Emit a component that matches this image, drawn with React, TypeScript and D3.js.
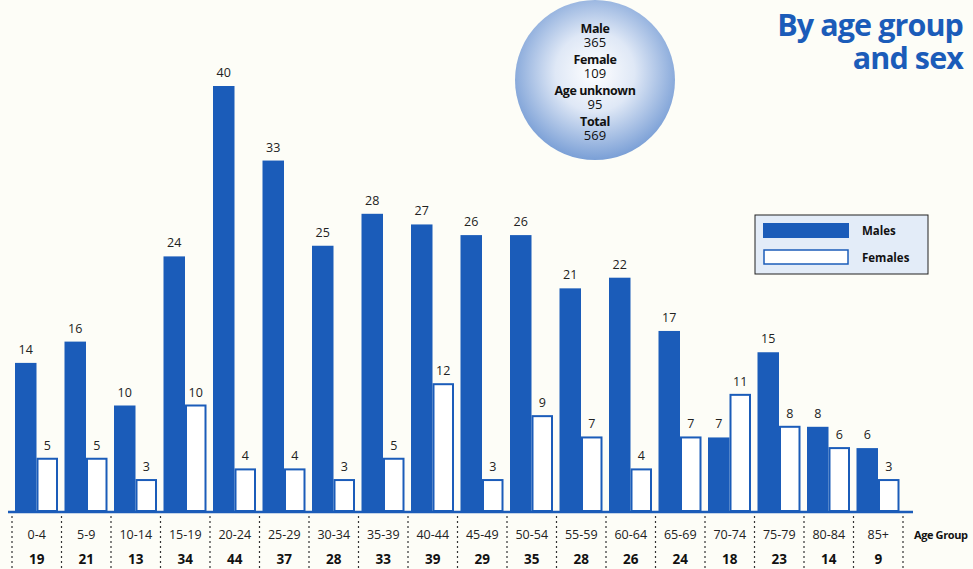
import React, { useEffect } from 'react';
import * as d3 from 'd3';

// chart data
const ageGroups = ['0-4', '5-9', '10-14', '15-19', '20-24', '25-29', '30-34', '35-39', '40-44', '45-49', '50-54', '55-59', '60-64', '65-69', '70-74', '75-79', '80-84', '85+'];
const males = [14, 16, 10, 24, 40, 33, 25, 28, 27, 26, 26, 21, 22, 17, 7, 15, 8, 6];
const females = [5, 5, 3, 10, 4, 4, 3, 5, 12, 3, 9, 7, 4, 7, 11, 8, 6, 3];
const totals = [19, 21, 13, 34, 44, 37, 28, 33, 39, 29, 35, 28, 26, 24, 18, 23, 14, 9];
const summary = [
  { label: 'Male', value: '365' },
  { label: 'Female', value: '109' },
  { label: 'Age unknown', value: '95' },
  { label: 'Total', value: '569' },
];

const W = 973;
const H = 569;
const BLUE = '#1b5cb9';
const FONT = '"Open Sans", "Noto Sans", sans-serif';

const App: React.FC = () => {
  useEffect(() => {
    document.body.style.margin = '0';
  }, []);

  const x0 = d3.scaleBand<string>().domain(ageGroups).range([12, 903]);
  const x1 = d3.scaleBand<string>().domain(['m', 'f']).range([3, 46]);
  const y = d3.scaleLinear().domain([0, 40]).range([512, 86]);

  return (
    <svg width={W} height={H} style={{ display: 'block', background: '#fdfdf7', fontFamily: FONT }}>
      <defs>
        <radialGradient id="bubble" cx="50%" cy="45%" r="55%">
          <stop offset="0%" stopColor="#ffffff" />
          <stop offset="45%" stopColor="#dfe8f6" />
          <stop offset="100%" stopColor="#7a9fd6" />
        </radialGradient>
      </defs>

      {/* title */}
      <text x={963} y={36} textAnchor="end" fill={BLUE} fontSize={30.5} fontWeight="bold" letterSpacing={-0.9}>By age group</text>
      <text x={963} y={69} textAnchor="end" fill={BLUE} fontSize={30.5} fontWeight="bold" letterSpacing={-0.9}>and sex</text>

      {/* summary bubble */}
      <circle cx={595} cy={80} r={80} fill="url(#bubble)" />
      {summary.map((s, i) => (
        <g key={s.label}>
          <text x={595} y={33 + i * 31} textAnchor="middle" fontSize={12.5} fontWeight="bold" fill="#111" letterSpacing={-0.4}>{s.label}</text>
          <text x={595} y={47 + i * 31} textAnchor="middle" fontSize={13} fill="#111">{s.value}</text>
        </g>
      ))}

      {/* bars */}
      {ageGroups.map((g, i) => {
        const gx = x0(g) as number;
        const mx = gx + (x1('m') as number);
        const fx = gx + (x1('f') as number);
        const bw = x1.bandwidth();
        return (
          <g key={g}>
            <rect x={mx} y={y(males[i])} width={bw} height={y(0) - y(males[i])} fill={BLUE} />
            <rect x={fx + 1} y={y(females[i])} width={bw - 2} height={y(0) - y(females[i]) - 1} fill="#fff" stroke={BLUE} strokeWidth={2} />
            <text x={mx + bw / 2} y={y(males[i]) - 9} textAnchor="middle" fontSize={12.5} fill="#222">{males[i]}</text>
            <text x={fx + bw / 2} y={y(females[i]) - 9} textAnchor="middle" fontSize={12.5} fill="#222">{females[i]}</text>
            <text x={gx + x0.bandwidth() / 2} y={539} textAnchor="middle" fontSize={12.5} fill="#222">{g}</text>
            <text x={gx + x0.bandwidth() / 2} y={564} textAnchor="middle" fontSize={13.5} fontWeight="bold" fill="#111">{totals[i]}</text>
          </g>
        );
      })}

      {/* baseline */}
      <line x1={8} x2={913} y1={y(0)} y2={y(0)} stroke={BLUE} strokeWidth={2.5} />

      {/* dotted separators */}
      {[...ageGroups.map((g) => x0(g) as number), x0.range()[1]].map((sx, i) => (
        <line key={i} x1={sx} x2={sx} y1={516} y2={569} stroke="#333" strokeWidth={1.2} strokeDasharray="2,3" />
      ))}
      <text x={914} y={539} fontSize={11} fontWeight="bold" fill="#111" letterSpacing={-0.4}>Age Group</text>

      {/* legend */}
      <rect x={755} y={215} width={173} height={59} fill="#e3ecf8" stroke="#222" strokeWidth={1} />
      <rect x={763} y={223} width={86} height={15} fill={BLUE} />
      <rect x={764} y={250} width={84} height={14} fill="#fff" stroke={BLUE} strokeWidth={1.5} />
      <text x={862} y={235} fontSize={11.5} fontWeight="bold" fill="#111">Males</text>
      <text x={862} y={262} fontSize={11.5} fontWeight="bold" fill="#111">Females</text>
    </svg>
  );
};

export default App;
